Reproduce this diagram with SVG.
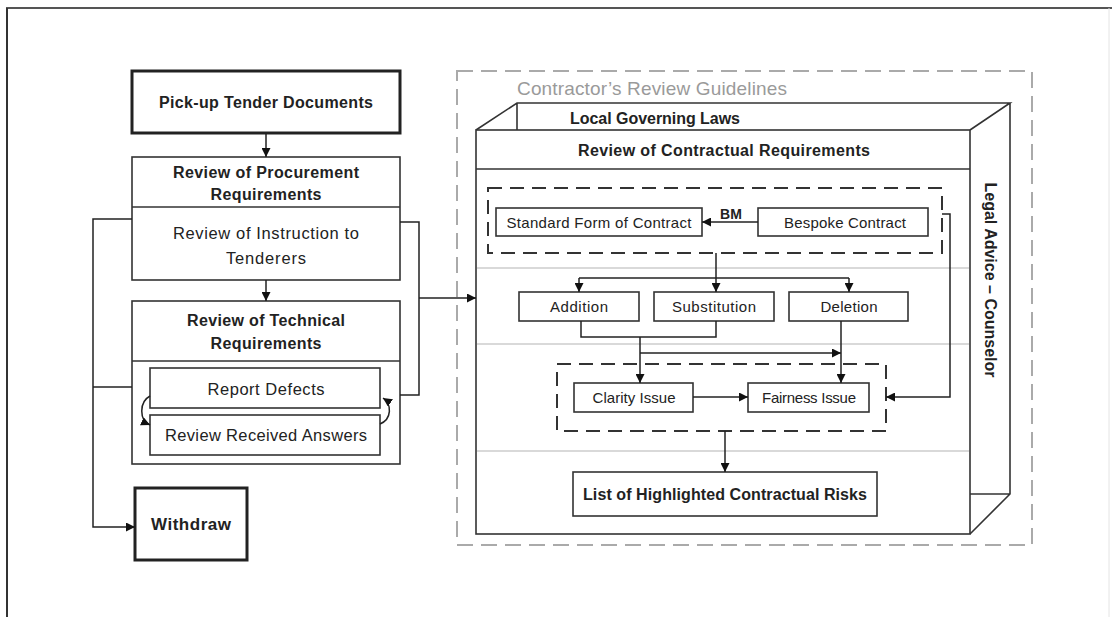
<svg xmlns="http://www.w3.org/2000/svg" width="1112" height="617" viewBox="0 0 1112 617">
<defs>
<marker id="arr" viewBox="0 0 10 10" markerWidth="9" markerHeight="9" refX="10" refY="5" orient="auto" markerUnits="userSpaceOnUse"><path d="M0,0 L10,5 L0,10 z" fill="#111"/></marker>
<style>
.t{font-family:"Liberation Sans",Arial,sans-serif;fill:#222;text-anchor:middle;font-size:15px}
.b{font-weight:bold;font-size:16px}
.r{font-size:16.5px}
.box{fill:#fff;stroke:#333;stroke-width:1.6}
.thick{fill:#fff;stroke:#222;stroke-width:3}
.c{fill:none;stroke:#222;stroke-width:1.5}
.ca{fill:none;stroke:#222;stroke-width:1.5;marker-end:url(#arr)}
.dash{fill:none;stroke:#333;stroke-width:2;stroke-dasharray:14 8}
.gdash{fill:none;stroke:#aaa;stroke-width:2;stroke-dasharray:16 8}
.sep{stroke:#ccc;stroke-width:1.5}
.ln{fill:none;stroke:#333;stroke-width:1.6}
</style>
</defs>
<rect width="1112" height="617" fill="#fff"/>
<g id="frame">
<line x1="6" y1="8" x2="1112" y2="8" stroke="#555" stroke-width="2"/>
<line x1="7" y1="8" x2="7" y2="617" stroke="#333" stroke-width="2"/>
<line x1="1109" y1="8" x2="1109" y2="617" stroke="#e4e4e4" stroke-width="1"/>
</g>

<g id="pickup">
<rect class="thick" x="132" y="71" width="268" height="62"/>
<text class="t b" x="266" y="108" textLength="214">Pick-up Tender Documents</text>
</g>
<g id="procurement">
<rect class="box" x="132" y="157" width="268" height="123"/>
<line class="ln" x1="132" y1="207" x2="400" y2="207"/>
<text class="t b" x="266" y="178" textLength="186">Review of Procurement</text>
<text class="t b" x="266" y="200" textLength="111">Requirements</text>
<text class="t r" x="266" y="239" textLength="186">Review of Instruction to</text>
<text class="t r" x="266" y="264" textLength="80">Tenderers</text>
</g>
<g id="technical">
<rect class="box" x="132" y="301" width="268" height="163"/>
<line class="ln" x1="132" y1="361" x2="400" y2="361"/>
<text class="t b" x="266" y="326" textLength="158">Review of Technical</text>
<text class="t b" x="266" y="349" textLength="111">Requirements</text>
</g>
<g id="report-defects">
<rect class="box" x="150" y="368" width="230" height="40"/>
<text class="t r" x="266" y="395" textLength="117">Report Defects</text>
</g>
<g id="review-answers">
<rect class="box" x="150" y="415" width="230" height="40"/>
<text class="t r" x="266" y="441" textLength="202">Review Received Answers</text>
</g>
<g id="withdraw">
<rect class="thick" x="135" y="488" width="112" height="72"/>
<text class="t b" x="191" y="530" font-size="17" style="font-size:17px" textLength="80">Withdraw</text>
</g>

<g id="guidelines">
<rect class="gdash" x="457" y="71" width="575" height="474"/>
<text class="t" x="652" y="95" style="fill:#9a9a9a;font-size:19px" textLength="270">Contractor’s Review Guidelines</text>
</g>
<g id="local-laws">
<polygon points="517,103 1010,103 1010,494 970,534 970,130 476,130" fill="#fff" stroke="none"/>
<path class="ln" d="M476,130 L517,103 H1010 L970,130 M517,103 V130 M1010,103 V494 L970,534 M970,494 H1010"/>
<text class="t b" x="655" y="124" textLength="170">Local Governing Laws</text>
</g>
<g id="legal-advice">
<text class="t b" transform="translate(990,280) rotate(90)" x="0" y="5.5" textLength="195">Legal Advice – Counselor</text>
</g>
<g id="contractual">
<rect class="box" x="476" y="130" width="494" height="404"/>
<line class="ln" x1="476" y1="169" x2="970" y2="169"/>
<text class="t b" x="724" y="156" textLength="292">Review of Contractual Requirements</text>
<line class="sep" x1="477" y1="268" x2="969" y2="268"/>
<line class="sep" x1="477" y1="344" x2="969" y2="344"/>
<line class="sep" x1="477" y1="451" x2="969" y2="451"/>
</g>
<g id="contract-type-group">
<rect class="dash" x="488" y="188" width="454" height="65"/>
</g>
<g id="standard-form">
<rect class="box" x="496" y="208" width="206" height="28"/>
<text class="t" x="599" y="227.5" textLength="185">Standard Form of Contract</text>
</g>
<g id="bespoke">
<rect class="box" x="758" y="208" width="170" height="28"/>
<text class="t" x="845" y="227.5" textLength="122">Bespoke Contract</text>
</g>
<g id="addition">
<rect class="box" x="519" y="292" width="120" height="29"/>
<text class="t" x="579" y="312" textLength="58">Addition</text>
</g>
<g id="substitution">
<rect class="box" x="654" y="292" width="120" height="29"/>
<text class="t" x="714" y="312" textLength="84">Substitution</text>
</g>
<g id="deletion">
<rect class="box" x="789" y="292" width="119" height="29"/>
<text class="t" x="849" y="312" textLength="57">Deletion</text>
</g>
<g id="issue-group">
<rect class="dash" x="557" y="364" width="329" height="67"/>
</g>
<g id="clarity">
<rect class="box" x="574" y="383" width="119" height="29"/>
<text class="t" x="634" y="403" textLength="83">Clarity Issue</text>
</g>
<g id="fairness">
<rect class="box" x="748" y="383" width="121" height="29"/>
<text class="t" x="809" y="403" textLength="94">Fairness Issue</text>
</g>
<g id="risks">
<rect class="box" x="573" y="472" width="304" height="44"/>
<text class="t b" x="725" y="500" textLength="284">List of Highlighted Contractual Risks</text>
</g>

<g id="connectors">
<path class="ca" d="M266,133 V157"/>
<path class="ca" d="M266,280 V301"/>
<path class="ca" d="M132,219 H93 V527 H135"/>
<path class="c" d="M132,387 H93"/>
<path class="c" d="M400,222 H419 V395 H400"/>
<path class="ca" d="M419,298 H476"/>
<path class="ca" d="M150,396 C139,402 139,420 150,425"/>
<path class="ca" d="M380,424 C392,419 392,404 383,398"/>
<path class="ca" d="M758,222 H702"/>
<text class="t b" x="731" y="219" style="font-size:14px">BM</text>
<path class="ca" d="M716,253 V292"/>
<path class="c" d="M579,278 H849"/>
<path class="ca" d="M579,278 V292"/>
<path class="ca" d="M849,278 V292"/>
<path class="c" d="M581,321 V337 H716 V321"/>
<path class="ca" d="M640,337 V383"/>
<path class="ca" d="M640,353 H841"/>
<path class="ca" d="M841,321 V383"/>
<path class="ca" d="M693,397 H748"/>
<path class="ca" d="M942,214 H950 V397 H886"/>
<path class="ca" d="M725,431 V472"/>
</g>
</svg>
